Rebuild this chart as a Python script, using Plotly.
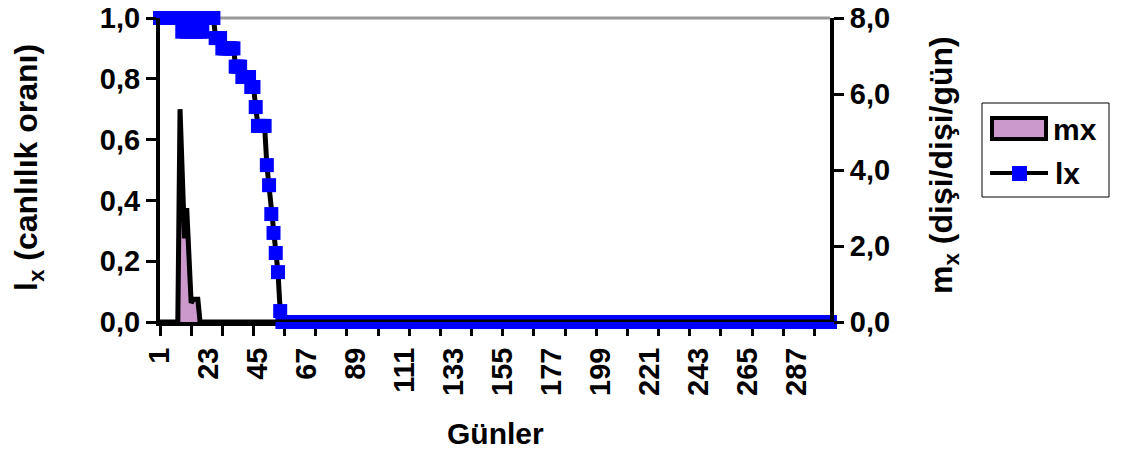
import plotly.graph_objects as go

# Days of the life table (x axis categories)
days = list(range(1, 303))

# lx: proportion of survivors per day (left axis)
lx_head = [
    1.0, 1.0, 1.0, 1.0, 1.0, 1.0, 1.0, 1.0, 1.0, 1.0,          # 1-10
    0.955, 1.0, 0.955, 1.0, 0.955, 1.0, 0.955, 1.0, 0.955, 0.955,  # 11-20
    1.0, 1.0, 1.0, 1.0, 1.0,                                   # 21-25
    0.934, 0.934, 0.934,                                       # 26-28
    0.90, 0.90, 0.90, 0.90, 0.90, 0.90,                        # 29-34
    0.84, 0.84, 0.84,                                          # 35-37
    0.806, 0.806, 0.806, 0.806,                                # 38-41
    0.773, 0.773,                                              # 42-43
    0.707,                                                     # 44
    0.645, 0.645, 0.645, 0.645,                                # 45-48
    0.516, 0.45, 0.355, 0.293, 0.227, 0.164, 0.036,            # 49-55
]
lx_values = lx_head + [0.0] * (len(days) - len(lx_head))

# mx: daily fecundity, female offspring per female per day (right axis)
mx_head = [
    0.0, 0.0, 0.0, 0.0, 0.0, 0.0, 0.0, 0.0, 0.0,   # 1-9
    5.6, 3.9, 2.2, 3.0, 1.8, 0.5, 0.6, 0.6, 0.6,   # 10-18
    0.0,                                           # 19
]
mx_values = mx_head + [0.0] * (len(days) - len(mx_head))

label_days = list(range(1, 300, 22))      # 1, 23, 45, ... 287
tick_days = list(range(1, 300, 14))       # tick marks every 14 days
left_ticks = [0.0, 0.2, 0.4, 0.6, 0.8, 1.0]
left_text = ["0,0", "0,2", "0,4", "0,6", "0,8", "1,0"]
right_ticks = [0, 2, 4, 6, 8]
right_text = ["0,0", "2,0", "4,0", "6,0", "8,0"]

W, H = 1124, 453
ML, MR, MT, MB = 160, 294, 18, 131
PW, PH = W - ML - MR, H - MT - MB

FONT = "Liberation Sans, Arial, sans-serif"
TICK_FONT = dict(family=FONT, size=29, color="black", weight="bold")
TITLE_FONT = dict(family=FONT, size=30, color="black", weight="bold")
YTITLE_FONT = dict(family=FONT, size=32, color="black", weight="bold")


def px(xp):
    return (xp - ML) / PW


def py(yp):
    return (H - MB - yp) / PH


fig = go.Figure()

fig.add_trace(go.Scatter(
    x=days, y=mx_values, name="mx", yaxis="y2",
    mode="lines", fill="tozeroy", fillcolor="#CC99CC",
    line=dict(color="black", width=5), showlegend=False,
    cliponaxis=False,
))

fig.add_trace(go.Scatter(
    x=days, y=lx_values, name="lx", yaxis="y",
    mode="lines+markers",
    line=dict(color="black", width=5),
    marker=dict(symbol="square", size=14, color="#0000FF", line=dict(width=0)),
    showlegend=False, cliponaxis=False,
))

fig.update_layout(
    width=W, height=H,
    margin=dict(l=ML, r=MR, t=MT, b=MB, pad=0),
    paper_bgcolor="white", plot_bgcolor="white",
    showlegend=False,
    xaxis=dict(
        range=[1, 302], tickmode="array", tickvals=label_days,
        ticktext=[str(d) for d in label_days], tickangle=-90,
        ticks="outside", ticklen=10, tickwidth=3, tickcolor="rgba(0,0,0,0)",
        minor=dict(tickmode="array", tickvals=tick_days, ticks="outside",
                   ticklen=10, tickwidth=3, tickcolor="black"),
        showline=True, linecolor="black", linewidth=4,
        showgrid=False, zeroline=False, automargin=False,
        tickfont=TICK_FONT, layer="below traces",
    ),
    yaxis=dict(
        range=[0, 1.0], tickmode="array", tickvals=left_ticks, ticktext=left_text,
        ticks="outside", ticklen=10, tickwidth=3, tickcolor="black",
        showline=True, linecolor="black", linewidth=4,
        showgrid=False, zeroline=False, automargin=False,
        tickfont=TICK_FONT,
    ),
    yaxis2=dict(
        range=[0, 8.0], overlaying="y", side="right", anchor="x",
        tickmode="array", tickvals=right_ticks, ticktext=right_text,
        ticks="outside", ticklen=10, tickwidth=3, tickcolor="black",
        showline=True, linecolor="black", linewidth=4,
        showgrid=False, zeroline=False, automargin=False,
        tickfont=TICK_FONT,
    ),
)

# light grey border line along the top of the plot area
fig.add_shape(type="line", xref="paper", yref="paper", x0=0, x1=1, y0=1, y1=1,
              line=dict(color="#999999", width=3), layer="below")

# axis titles
fig.add_annotation(text="l<sub>x</sub> (canlılık oranı)", xref="paper", yref="paper",
                   x=px(28), y=py(168), textangle=-90, showarrow=False,
                   font=YTITLE_FONT, xanchor="center", yanchor="middle")
fig.add_annotation(text="m<sub>x</sub> (dişi/dişi/gün)", xref="paper", yref="paper",
                   x=px(943), y=py(165), textangle=-90, showarrow=False,
                   font=YTITLE_FONT, xanchor="center", yanchor="middle")
fig.add_annotation(text="Günler", xref="paper", yref="paper",
                   x=px(495), y=py(433), showarrow=False,
                   font=TITLE_FONT, xanchor="center", yanchor="middle")

# legend box
fig.add_shape(type="rect", xref="paper", yref="paper",
              x0=px(982), x1=px(1109), y0=py(197), y1=py(103),
              line=dict(color="black", width=1), fillcolor="white")
fig.add_shape(type="rect", xref="paper", yref="paper",
              x0=px(992), x1=px(1046), y0=py(139), y1=py(118),
              line=dict(color="black", width=4), fillcolor="#CC99CC")
fig.add_annotation(text="mx", xref="paper", yref="paper", x=px(1051), y=py(129),
                   showarrow=False, font=TITLE_FONT, xanchor="left", yanchor="middle")
fig.add_shape(type="line", xref="paper", yref="paper",
              x0=px(990), x1=px(1048), y0=py(173), y1=py(173),
              line=dict(color="black", width=4))
fig.add_shape(type="rect", xref="paper", yref="paper",
              x0=px(1012), x1=px(1027), y0=py(181), y1=py(166),
              line=dict(width=0), fillcolor="#0000FF")
fig.add_annotation(text="lx", xref="paper", yref="paper", x=px(1053), y=py(173),
                   showarrow=False, font=TITLE_FONT, xanchor="left", yanchor="middle")

fig.write_html("out.html")
